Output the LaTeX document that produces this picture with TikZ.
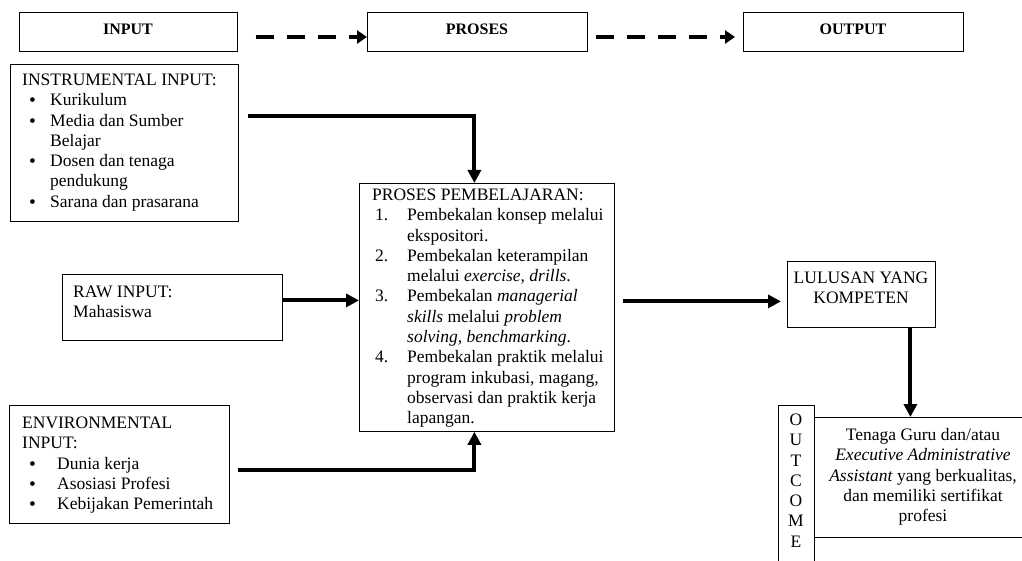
\documentclass[tikz,border=0pt]{standalone}
\usepackage{fontspec}
\setmainfont{Liberation Serif}
\usetikzlibrary{arrows.meta}
\newcommand\fs{\fontsize{17.5}{20.3}\selectfont}
\newcommand\bigbul{\raisebox{-1pt}{\fontsize{19.5}{20}\selectfont\textbullet}}
\newcommand\bla{\makebox[28pt][l]{\hspace*{7pt}\bigbul}}
\newcommand\bia{\hspace*{28pt}}
\newcommand\blb{\makebox[35pt][l]{\hspace*{7pt}\bigbul}}
\newcommand\nmr[1]{\makebox[35pt][l]{\hspace*{3pt}#1}}
\newcommand\nin{\hspace*{35pt}}
\begin{document}
\begin{tikzpicture}[x=1pt,y=-1pt,
 box/.style={draw, line width=0.8pt, inner sep=0pt, anchor=north west},
 txt/.style={inner sep=0pt, font=\fs, align=left, anchor=north west},
 ctxt/.style={inner sep=0pt, font=\fs, align=center, anchor=north},
 head/.style={inner sep=0pt, font=\fontsize{16}{19}\selectfont\bfseries},
 arr/.style={line width=4pt, -{Triangle[length=13pt,width=13pt]}, line join=miter},
 darr/.style={line width=4.5pt, dash pattern=on 18pt off 13pt, -{Triangle[length=10pt,width=13pt]}}]
\useasboundingbox (0,0) rectangle (1022,561);
\clip (0,0) rectangle (1022,561);
% top row
\node[box, minimum width=218pt, minimum height=39pt] (inp) at (19,12) {};
\node[head] (inpl) at (128,29) {INPUT};
\node[box, minimum width=220pt, minimum height=39pt] (pro) at (367,12) {};
\node[head] (prol) at (477,29) {PROSES};
\node[box, minimum width=220pt, minimum height=39pt] (out) at (743,12) {};
\node[head] (outl) at (853,29) {OUTPUT};
\draw[darr] ([xshift=18pt,yshift=-25pt]inp.north east) -- ([yshift=-25pt]pro.north west);
\draw[darr] ([xshift=8pt,yshift=-25pt]pro.north east) -- ([xshift=-8pt,yshift=-25pt]out.north west);
% instrumental input
\node[box, minimum width=228pt, minimum height=157pt] (inst) at (10,64) {};
\node[txt] (instt) at (22,71) {\strut INSTRUMENTAL INPUT:\\
\bla Kurikulum\\
\bla Media dan Sumber\\
\bia Belajar\\
\bla Dosen dan tenaga\\
\bia pendukung\\
\bla Sarana dan prasarana};
% raw input
\node[box, minimum width=220pt, minimum height=66pt] (raw) at (62,274) {};
\node[txt] (rawt) at (73,283) {\strut RAW INPUT:\\Mahasiswa};
% environmental input
\node[box, minimum width=220pt, minimum height=118pt] (env) at (9,405) {};
\node[txt] (envt) at (22,414) {\strut ENVIRONMENTAL\\
INPUT:\\
\blb Dunia kerja\\
\blb Asosiasi Profesi\\
\blb Kebijakan Pemerintah};
% central process
\node[box, minimum width=255pt, minimum height=248pt] (proc) at (359,183) {};
\begin{scope}
\clip (proc.north west) rectangle (proc.south east);
\node[txt] (proct) at (372,186) {\strut PROSES PEMBELAJARAN:\\
\nmr{1.}Pembekalan konsep melalui\\
\nin ekspositori.\\
\nmr{2.}Pembekalan keterampilan\\
\nin melalui \textit{exercise, drills}.\\
\nmr{3.}Pembekalan \textit{managerial}\\
\nin \textit{skills} melalui \textit{problem}\\
\nin \textit{solving, benchmarking}.\\
\nmr{4.}Pembekalan praktik melalui\\
\nin program inkubasi, magang,\\
\nin observasi dan praktik kerja\\
\nin lapangan.};
\end{scope}
% output side
\node[box, minimum width=148pt, minimum height=66pt] (lul) at (787,261) {};
\node[ctxt] (lult) at (861,269) {\strut LULUSAN YANG\\KOMPETEN};
\node[box, minimum width=36pt, minimum height=170pt] (oc) at (778,405) {};
\node[ctxt] (oct) at (796,411) {\strut O\\U\\T\\C\\O\\M\\E};
\node[box, minimum width=222pt, minimum height=120pt] (ot) at (814,417) {};
\node[ctxt] (ott) at (923,426) {\strut Tenaga Guru dan/atau\\
\textit{Executive Administrative}\\
\textit{Assistant} yang berkualitas,\\
dan memiliki sertifikat\\
profesi};
% connectors
\draw[arr] ([xshift=9pt,yshift=-52pt]inst.north east) -| ([xshift=-12.5pt]proc.north);
\draw[arr] ([yshift=7pt]raw.east) -- ([yshift=7pt]raw.east -| proc.west);
\draw[arr] ([xshift=8pt,yshift=-65pt]env.north east) -| ([xshift=-12.5pt]proc.south);
\draw[arr] ([xshift=8pt,yshift=6pt]proc.east) -- ([xshift=-6pt,yshift=-7pt]lul.west);
\draw[arr] ([xshift=49pt]lul.south) -- ([xshift=49pt]lul.south |- ot.north);
\end{tikzpicture}
\end{document}
